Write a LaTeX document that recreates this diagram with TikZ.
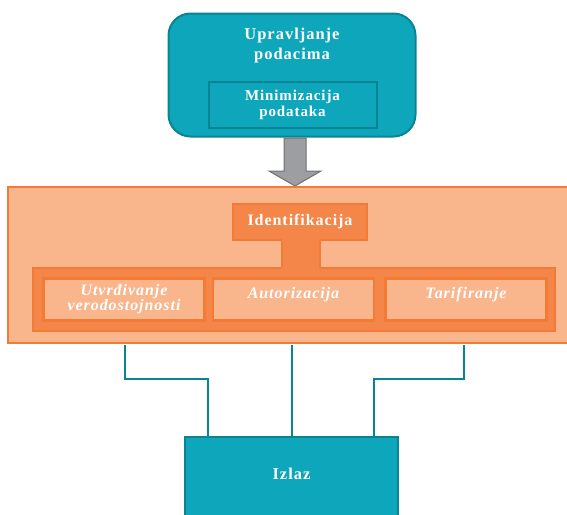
\documentclass[tikz,border=0pt]{standalone}
\usepackage{fontspec}
\setmainfont{Liberation Serif}[LetterSpace=6]
\usetikzlibrary{positioning}

\definecolor{tealfill}{HTML}{0EA6BA}
\definecolor{tealline}{HTML}{0A8494}
\definecolor{panelfill}{HTML}{F9B58C}
\definecolor{orangeline}{HTML}{F47B34}
\definecolor{orangefill}{HTML}{F5864A}
\definecolor{arrowfill}{HTML}{9D9EA1}
\definecolor{arrowline}{HTML}{6F7073}

\begin{document}
\begin{tikzpicture}[x=1pt,y=-1pt,
    tealbox/.style={draw=tealline, fill=tealfill, line width=2pt, inner sep=0pt},
    panelbox/.style={draw=orangeline, fill=panelfill, line width=2.5pt, inner sep=0pt},
    idbox/.style={draw=orangeline, fill=orangefill, line width=2.5pt, inner sep=0pt},
    subbox/.style={draw=orangeline, fill=panelfill, line width=2.5pt, inner sep=0pt,
        minimum width=161pt, minimum height=42pt, text=white, align=center,
        font=\fontsize{16}{15}\selectfont\bfseries\itshape},
    raised/.style={text height=11pt, text depth=14pt},
    whitetext/.style={text=white, align=center, inner sep=0pt},
    link/.style={draw=tealline, line width=2.5pt}]
        \useasboundingbox (0,0) rectangle (567,514);
        \clip (0,0) rectangle (567,514);

        % Top box
        \node[tealbox, rounded corners=22pt, minimum width=247pt, minimum height=123pt] (upr) at (292,75) {};
        \node[whitetext, anchor=north, font=\fontsize{16.5}{20}\selectfont\bfseries] (uprtxt) at (292,28) {Upravljanje\\podacima};
        \node[tealbox, whitetext, minimum width=168pt, minimum height=46pt,
            font=\fontsize{15}{16}\selectfont\bfseries] (mini) at (292.5,105) {Minimizacija\\podataka};

        % Arrow
        \filldraw[fill=arrowfill, draw=arrowline, line width=1pt]
            (284,138) -- (306,138) -- (306,171) -- (321,171) -- (295,186) -- (269,171) -- (284,171) -- cycle;

        % Orange panel
        \node[panelbox, minimum width=572pt, minimum height=156pt] (panel) at (294,265) {};
        \node[idbox, whitetext, minimum width=134pt, minimum height=36pt,
            font=\fontsize{16}{18}\selectfont\bfseries] (ident) at (300,222) {Identifikacija};
        \node[idbox, minimum width=522pt, minimum height=63pt] (row) at (294,299.5) {};
        \fill[orangefill] (282,239) rectangle (320,270);
        \draw[orangeline, line width=2pt] (282,241) -- (282,268) (320,241) -- (320,268);

        \node[subbox] (utv) at (124,299.5) {Utvrđivanje\\verodostojnosti};
        \node[subbox, raised] (aut) at (293.5,299.5) {Autorizacija};
        \node[subbox, raised] (tar) at (466,299.5) {Tarifiranje};

        % Output
        \node[tealbox, whitetext, anchor=north, minimum width=213pt, text height=42pt, text depth=90pt,
            font=\fontsize{16.5}{18}\selectfont\bfseries] (izlaz) at (291.5,436) {Izlaz};

        \coordinate (outL) at (125,345);
        \coordinate (outM) at (292,345);
        \coordinate (outR) at (464,345);
        \draw[link] (outL) |- (208,379) -- ([xshift=-83.5pt]izlaz.north);
        \draw[link] (outM) -- (outM |- izlaz.north);
        \draw[link] (outR) |- (374,379) -- ([xshift=82.5pt]izlaz.north);
    \end{tikzpicture}
\end{document}
